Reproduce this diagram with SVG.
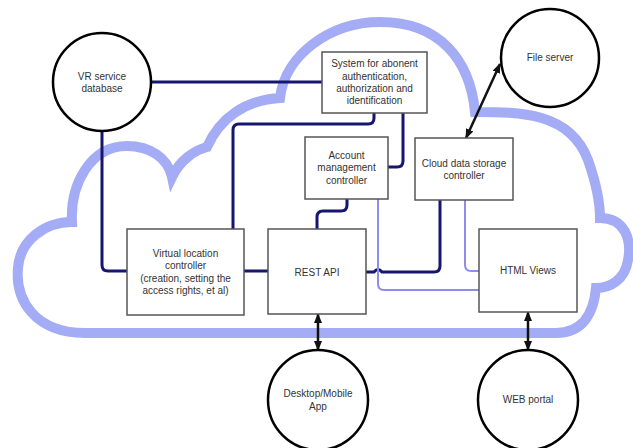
<svg xmlns="http://www.w3.org/2000/svg" width="633" height="448" viewBox="0 0 633 448">
  <style>
    .cloud { fill: none; stroke: #a3acf4; stroke-width: 10; stroke-linejoin: miter; }
    .dark { fill: none; stroke: #16166e; stroke-width: 3; }
    .light { fill: none; stroke: #8e8eea; stroke-width: 2; }
    .arrow { fill: none; stroke: #111; stroke-width: 2.5; marker-start: url(#head); marker-end: url(#head); }
    .box { fill: #fff; stroke: #555; stroke-width: 1.5; }
    .ext { fill: #fff; stroke: #000; stroke-width: 2.5; }
    text { font-family: "Liberation Sans", Arial, sans-serif; font-size: 10px; fill: #333; text-anchor: middle; }
  </style>
  <defs>
    <marker id="head" viewBox="0 0 10 8" refX="9" refY="4" markerWidth="10" markerHeight="8" markerUnits="userSpaceOnUse" orient="auto-start-reverse">
      <path d="M0,0 L10,4 L0,8 z" fill="#111"/>
    </marker>
  </defs>

  <rect width="633" height="448" fill="#fff"/>

  <!-- cloud outline -->
  <path class="cloud" d="M 85,333 C 35,333 15,300 18,268 C 20,240 45,222 72,222
    C 70,185 90,146 127,146 C 150,146 168,158 172,177
    C 180,160 195,150 207,147 C 220,118 245,100 280,98
    C 285,55 330,22 380,22 C 440,22 470,60 475,112
    C 520,112 570,112 588,160 C 595,180 600,200 600,218
    C 625,218 632,240 628,260 C 625,280 610,288 596,288
    C 594,310 585,333 556,333 Z"/>

  <g id="connectors">
    <path class="dark" d="M 151,82 H 322"/>
    <path class="dark" d="M 102,131 V 265 Q 102,271 108,271 H 127"/>
    <path class="dark" d="M 374,113 V 118 Q 374,124 368,124 H 239 Q 233,124 233,130 V 229"/>
    <path class="dark" d="M 403,113 V 161 Q 403,167 397,167 H 388"/>
    <path class="dark" d="M 347,199 V 205 Q 347,211 341,211 H 323 Q 317,211 317,217 V 229"/>
    <path class="dark" d="M 244,271 H 268"/>
    <path class="dark" d="M 366,272 H 374 Q 378,267 382,272 H 434 Q 440,272 440,266 V 200"/>
    <path class="light" d="M 378,199 V 284 Q 378,290 384,290 H 479"/>
    <path class="light" d="M 465,200 V 265 Q 465,271 471,271 H 479"/>
    <path class="arrow" d="M 466,138 L 500,64"/>
    <path class="arrow" d="M 318,314 V 350"/>
    <path class="arrow" d="M 528,312 V 350"/>
  </g>

  <g id="vr-database">
    <circle class="ext" cx="102" cy="82" r="49"/>
    <text x="102" y="80">VR service</text>
    <text x="102" y="92">database</text>
  </g>

  <g id="file-server">
    <circle class="ext" cx="550" cy="58" r="49"/>
    <text x="550" y="61">File server</text>
  </g>

  <g id="desktop-app">
    <circle class="ext" cx="318" cy="400" r="50"/>
    <text x="318" y="397">Desktop/Mobile</text>
    <text x="318" y="410">App</text>
  </g>

  <g id="web-portal">
    <circle class="ext" cx="528" cy="400" r="50"/>
    <text x="528" y="403">WEB portal</text>
  </g>

  <g id="auth-system">
    <rect class="box" x="322" y="52" width="105" height="61"/>
    <text x="374.5" y="67">System for abonent</text>
    <text x="374.5" y="79.5">authentication,</text>
    <text x="374.5" y="92">authorization and</text>
    <text x="374.5" y="104">identification</text>
  </g>

  <g id="account-controller">
    <rect class="box" x="305" y="137" width="83" height="62"/>
    <text x="346.5" y="158.5">Account</text>
    <text x="346.5" y="171">management</text>
    <text x="346.5" y="183.5">controller</text>
  </g>

  <g id="storage-controller">
    <rect class="box" x="415" y="138" width="98" height="62"/>
    <text x="464" y="166.5">Cloud data storage</text>
    <text x="464" y="178.5">controller</text>
  </g>

  <g id="location-controller">
    <rect class="box" x="127" y="229" width="117" height="86"/>
    <text x="185.5" y="256.5">Virtual location</text>
    <text x="185.5" y="269">controller</text>
    <text x="185.5" y="281.5">(creation, setting the</text>
    <text x="185.5" y="293.5">access rights, et al)</text>
  </g>

  <g id="rest-api">
    <rect class="box" x="268" y="229" width="98" height="85"/>
    <text x="317" y="275.5">REST API</text>
  </g>

  <g id="html-views">
    <rect class="box" x="479" y="229" width="98" height="83"/>
    <text x="528" y="273.5">HTML Views</text>
  </g>
</svg>
